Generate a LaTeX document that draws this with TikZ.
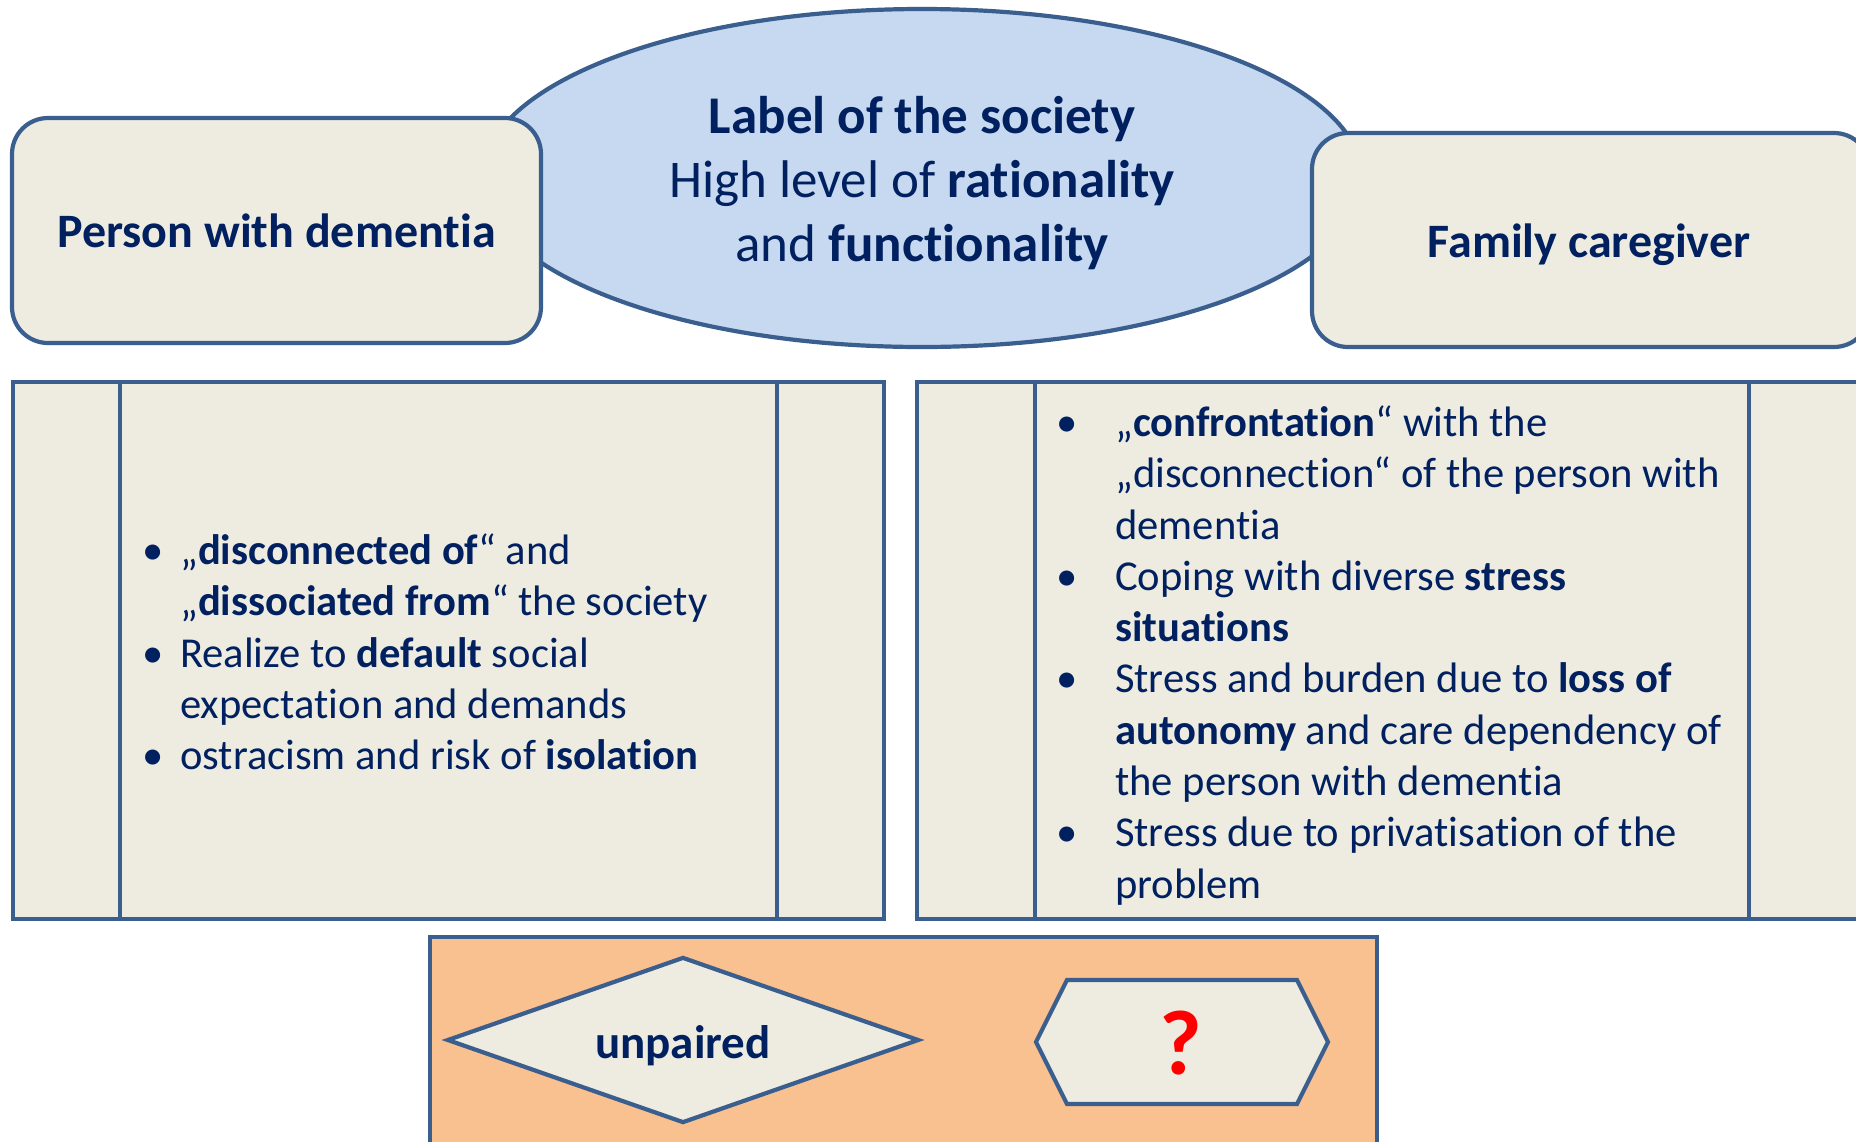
\documentclass[tikz,border=0pt]{standalone}
\usepackage{fontspec}
\setmainfont{Carlito}[Ligatures=NoCommon]
\usepackage{tikz}
\usetikzlibrary{shapes.geometric,positioning}
\definecolor{navy}{HTML}{002060}
\definecolor{frame}{HTML}{3A5F8E}
\definecolor{tan}{HTML}{EEECE1}
\definecolor{skyfill}{HTML}{C6D9F1}
\definecolor{peach}{HTML}{F9C090}
\tikzset{
    %Define style for the heading boxes
    headbox/.style={
           rectangle,
           rounded corners=36pt,
           draw=frame, line width=4.2pt,
           fill=tan,
           text=navy,
           font=\fontsize{48}{64}\selectfont\bfseries,
           text centered},
    %Define style for the society ellipse
    society/.style={
           ellipse,
           draw=frame, line width=4.2pt,
           fill=skyfill,
           inner sep=0pt},
    %Define style for the two list panels
    panel/.style={
           rectangle,
           draw=frame, line width=3.6pt,
           fill=tan,
           inner sep=0pt},
    listtext/.style={
           anchor=west,
           inner sep=0pt,
           text=navy,
           font=\fontsize{42.6}{51.3}\selectfont},
    % Define style for the bottom shapes
    outline/.style={
           draw=frame, line width=4.2pt,
           fill=tan},
}

\begin{document}
\begin{tikzpicture}[x=1pt,y=-1pt]
\useasboundingbox (0,0) rectangle (1856,1141);
\clip (0,0) rectangle (1856,1141);
% heading row
\node[society, minimum width=880pt, minimum height=338pt] (label) at (922,178) {};
\node[text=navy, align=center, font=\fontsize{53}{64}\selectfont] (labeltext) at (922,183)
  {\textbf{Label of the society}\\High level of \textbf{rationality}\\and \textbf{functionality}};
\node[headbox, minimum width=529pt, minimum height=225pt] (person) at (276.5,230.5) {Person with dementia};
\node[headbox, minimum width=558pt, minimum height=214pt] (carer) at (1591,240) {};
\node[text=navy, font=\fontsize{48}{64}\selectfont\bfseries] (carertext) at (1589,245) {Family caregiver};
% list panels
\node[panel, minimum width=871pt, minimum height=537pt] (left) at (448.5,650.5) {};
\draw[frame, line width=3.6pt] ([xshift=109pt]left.north west) -- ([xshift=109pt]left.south west);
\draw[frame, line width=3.6pt] ([xshift=-109pt]left.north east) -- ([xshift=-109pt]left.south east);
\node[panel, minimum width=950pt, minimum height=537pt] (right) at (1392,650.5) {};
\draw[frame, line width=3.6pt] ([xshift=120pt]right.north west) -- ([xshift=120pt]right.south west);
\draw[frame, line width=3.6pt] ([xshift=-120pt]right.north east) -- ([xshift=-120pt]right.south east);
\node[listtext] (leftlist) at (142,657) {\begin{tabular}{@{}p{38pt}@{}l@{}}
  \textbullet & „\textbf{disconnected of}“ and\\
              & „\textbf{dissociated from}“ the society\\
  \textbullet & Realize to \textbf{default} social\\
              & expectation and demands\\
  \textbullet & ostracism and risk of \textbf{isolation}
\end{tabular}};
\node[listtext] (rightlist) at (1056,657) {\begin{tabular}{@{}p{59pt}@{}l@{}}
  \textbullet & „\textbf{confrontation}“ with the\\
              & „disconnection“ of the person with\\
              & dementia\\
  \textbullet & Coping with diverse \textbf{stress}\\
              & \textbf{situations}\\
  \textbullet & Stress and burden due to \textbf{loss of}\\
              & \textbf{autonomy} and care dependency of\\
              & the person with dementia\\
  \textbullet & Stress due to privatisation of the\\
              & problem
\end{tabular}};
% bottom row
\node[rectangle, draw=frame, line width=4.2pt, fill=peach, minimum width=947pt, minimum height=223pt] (status) at (903.5,1048.5) {};
\node[diamond, outline, inner sep=0pt, aspect=2.84, minimum width=472pt, minimum height=166pt] (unpaired) at (683,1040) {};
\node[text=navy, font=\fontsize{47}{56}\selectfont\bfseries] (unpairedtext) at (683,1046) {unpaired};
\draw[outline] (1036,1042) -- (1067,980) -- (1297,980) -- (1328,1042) -- (1297,1104) -- (1067,1104) -- cycle;
\node[text=red, font=\fontsize{92}{100}\selectfont\bfseries] (query) at (1181,1043) {?};
\end{tikzpicture}
\end{document}
